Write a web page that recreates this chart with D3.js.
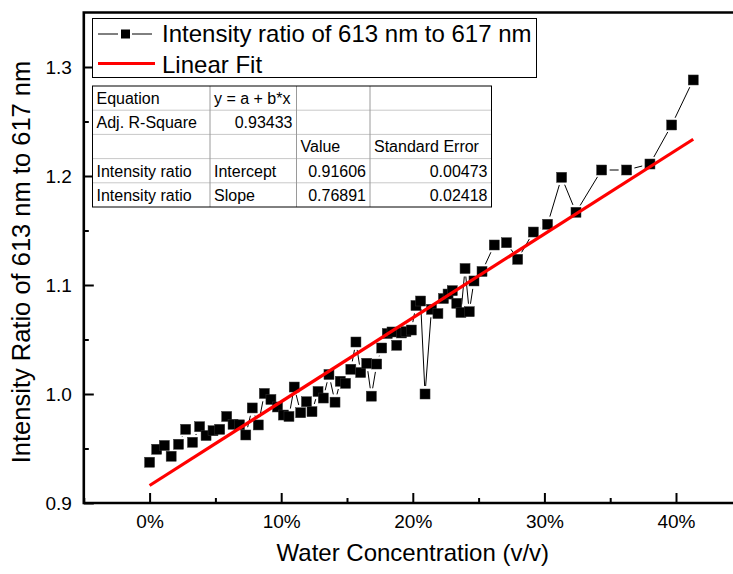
<!DOCTYPE html>
<html>
<head>
<meta charset="utf-8">
<script src="https://cdn.jsdelivr.net/npm/d3@7"></script>
<style>
  body { margin: 0; background: #fff; }
  text { font-family: "Liberation Sans", Arial, Helvetica, sans-serif; fill: #000; }
</style>
</head>
<body>
<svg id="chart" width="733" height="574"></svg>
<script>
// Water content of the solvent (% v/v)
const waterPct = [
  0.00, 0.54, 1.12, 1.64, 2.20, 2.74, 3.26, 3.80, 4.29, 4.82,
  5.33, 5.86, 6.34, 6.83, 7.31, 7.80, 8.26, 8.72, 9.22, 9.72,
  10.17, 10.59, 10.99, 11.48, 11.92, 12.34, 12.80, 13.20, 13.63, 14.09,
  14.49, 14.89, 15.29, 15.68, 16.04, 16.50, 16.85, 17.26, 17.64, 18.06,
  18.42, 18.78, 19.14, 19.48, 19.89, 20.24, 20.59, 20.93, 21.42, 21.91,
  22.33, 22.68, 23.00, 23.34, 23.66, 23.97, 24.29, 24.65, 25.26, 26.19,
  27.12, 27.97, 29.16, 30.24, 31.31, 32.40, 34.35, 36.25, 38.02, 39.67,
  41.31
];
// Emission intensity ratio I(613 nm) / I(617 nm)
const intensityRatio = [
  0.9374, 0.9493, 0.9528, 0.9429, 0.9539, 0.9676, 0.9557, 0.9700, 0.9619, 0.9663,
  0.9676, 0.9794, 0.9722, 0.9717, 0.9624, 0.9872, 0.9716, 1.0005, 0.9950, 0.9881,
  0.9807, 0.9794, 1.0064, 0.9828, 0.9929, 0.9838, 1.0023, 0.9963, 1.0179, 0.9925,
  1.0117, 1.0098, 1.0227, 1.0477, 1.0197, 1.0282, 0.9980, 1.0275, 1.0422, 1.0555,
  1.0569, 1.0447, 1.0560, 1.0572, 1.0587, 1.0812, 1.0853, 1.0000, 1.0777, 1.0738,
  1.0876, 1.0917, 1.0948, 1.0832, 1.0748, 1.1151, 1.0755, 1.1037, 1.1124, 1.1367,
  1.1388, 1.1236, 1.1486, 1.1557, 1.1988, 1.1667, 1.2055, 1.2055, 1.2110, 1.2468,
  1.2881
];

const xMajorTicks = [0, 10, 20, 30, 40];
const xMinorTicks = [-5, 5, 15, 25, 35];
const yMajorTicks = [0.9, 1.0, 1.1, 1.2, 1.3];
const yMinorTicks = [0.95, 1.05, 1.15, 1.25];

// Linear fit y = a + b*x (x as volume fraction)
const fitIntercept = 0.91606;
const fitSlope = 0.76891;

const legendLabels = ["Intensity ratio of 613 nm to 617 nm", "Linear Fit"];
const xTitle = "Water Concentration (v/v)";
const yTitle = "Intensity Ratio of 613 nm to 617 nm";

const statsRows = [
  ["Equation", "y = a + b*x", "", ""],
  ["Adj. R-Square", "0.93433", "", ""],
  ["", "", "Value", "Standard Error"],
  ["Intensity ratio", "Intercept", "0.91606", "0.00473"],
  ["Intensity ratio", "Slope", "0.76891", "0.02418"]
];

const svg = d3.select("#chart");

const x = d3.scaleLinear().domain([-5, 45]).range([83.8, 741.8]);
const y = d3.scaleLinear().domain([0.9, 1.35]).range([503, 12.5]);

const plotLeft = x(-5), plotRight = x(45), plotTop = y(1.35), plotBottom = y(0.9);

// ---- axes ----
const gx = svg.append("g").attr("transform", `translate(0,${plotBottom})`);
gx.call(d3.axisBottom(x).tickValues(xMajorTicks).tickSize(-10).tickSizeOuter(0)
  .tickPadding(12).tickFormat(d => d + "%"));
const gxm = svg.append("g").attr("transform", `translate(0,${plotBottom})`);
gxm.call(d3.axisBottom(x).tickValues(xMinorTicks).tickSize(-5).tickSizeOuter(0).tickFormat(""));

const gy = svg.append("g").attr("transform", `translate(${plotLeft},0)`);
gy.call(d3.axisLeft(y).tickValues(yMajorTicks).tickSize(-10).tickSizeOuter(0)
  .tickPadding(12).tickFormat(d3.format(".1f")));
const gym = svg.append("g").attr("transform", `translate(${plotLeft},0)`);
gym.call(d3.axisLeft(y).tickValues(yMinorTicks).tickSize(-5).tickSizeOuter(0).tickFormat(""));

[gx, gxm, gy, gym].forEach(g => {
  g.select(".domain").remove();
  g.selectAll(".tick line").attr("stroke", "#000").attr("stroke-width", 2);
  g.selectAll(".tick text").style("font-size", "19px").attr("fill", "#000");
});

// frame (bottom, left, top)
svg.append("path")
  .attr("d", `M${plotRight},${plotTop}H${plotLeft}V${plotBottom}H${plotRight}`)
  .attr("fill", "none").attr("stroke", "#000").attr("stroke-width", 2.6);

// axis titles
svg.append("text")
  .attr("x", (x(0) + x(40)) / 2).attr("y", 561)
  .attr("text-anchor", "middle").style("font-size", "24px")
  .text(xTitle);
svg.append("text")
  .attr("transform", `translate(30,262) rotate(-90)`)
  .attr("text-anchor", "middle").style("font-size", "25.5px")
  .text(yTitle);

// ---- data ----
const pts = waterPct.map((v, i) => [x(v), y(intensityRatio[i])]);
const mark = 10, gap = 8;

// connecting line, broken around each symbol
const segs = [];
for (let i = 1; i < pts.length; i++) {
  const [x0, y0] = pts[i - 1], [x1, y1] = pts[i];
  const dx = x1 - x0, dy = y1 - y0, L = Math.hypot(dx, dy);
  if (L <= 2 * gap) continue;
  const ux = dx / L, uy = dy / L;
  segs.push([x0 + ux * gap, y0 + uy * gap, x1 - ux * gap, y1 - uy * gap]);
}
svg.append("g").selectAll("line").data(segs).join("line")
  .attr("x1", d => d[0]).attr("y1", d => d[1])
  .attr("x2", d => d[2]).attr("y2", d => d[3])
  .attr("stroke", "#000").attr("stroke-width", 1);

svg.append("g").selectAll("rect").data(pts).join("rect")
  .attr("x", d => d[0] - mark / 2).attr("y", d => d[1] - mark / 2)
  .attr("width", mark).attr("height", mark)
  .attr("fill", "#000").attr("stroke", "#333").attr("stroke-width", 0.5);

// fitted line over the data range
const xMin = d3.min(waterPct), xMax = d3.max(waterPct);
svg.append("line")
  .attr("x1", x(xMin)).attr("y1", y(fitIntercept + fitSlope * xMin / 100))
  .attr("x2", x(xMax)).attr("y2", y(fitIntercept + fitSlope * xMax / 100))
  .attr("stroke", "#ff0000").attr("stroke-width", 3.2);

// ---- legend ----
const lg = svg.append("g");
lg.append("rect").attr("x", 92.5).attr("y", 18.5).attr("width", 444).attr("height", 59)
  .attr("fill", "#fff").attr("stroke", "#000").attr("stroke-width", 1);
lg.append("line").attr("x1", 98).attr("x2", 118).attr("y1", 34).attr("y2", 34)
  .attr("stroke", "#000").attr("stroke-width", 1);
lg.append("line").attr("x1", 132).attr("x2", 152).attr("y1", 34).attr("y2", 34)
  .attr("stroke", "#000").attr("stroke-width", 1);
lg.append("rect").attr("x", 121).attr("y", 29.5).attr("width", 9).attr("height", 9).attr("fill", "#000");
lg.append("line").attr("x1", 98).attr("x2", 155).attr("y1", 63.5).attr("y2", 63.5)
  .attr("stroke", "#ff0000").attr("stroke-width", 3);
lg.selectAll("text.lab").data(legendLabels).join("text").attr("class", "lab")
  .attr("x", 162).attr("y", (d, i) => 42 + i * 31)
  .style("font-size", "24px").text(d => d);

// ---- statistics table ----
const colEdges = [92.5, 210, 296.5, 370, 491.5];
const rowTop = 86, rowH = 24.2;
const tb = svg.append("g");
tb.append("rect").attr("x", colEdges[0]).attr("y", rowTop)
  .attr("width", colEdges[4] - colEdges[0]).attr("height", rowH * statsRows.length)
  .attr("fill", "#fff");
for (let r = 1; r < statsRows.length; r++) {
  tb.append("line").attr("x1", colEdges[0]).attr("x2", colEdges[4])
    .attr("y1", rowTop + r * rowH).attr("y2", rowTop + r * rowH)
    .attr("stroke", "#c8c8c8").attr("stroke-width", 1);
}
for (let c = 1; c < 4; c++) {
  tb.append("line").attr("x1", colEdges[c]).attr("x2", colEdges[c])
    .attr("y1", rowTop).attr("y2", rowTop + rowH * statsRows.length)
    .attr("stroke", "#9a9a9a").attr("stroke-width", 1);
}
tb.append("rect").attr("x", colEdges[0]).attr("y", rowTop)
  .attr("width", colEdges[4] - colEdges[0]).attr("height", rowH * statsRows.length)
  .attr("fill", "none").attr("stroke", "#000").attr("stroke-width", 1);
statsRows.forEach((row, r) => {
  row.forEach((cell, c) => {
    if (!cell) return;
    const numeric = /^[0-9.]+$/.test(cell);
    tb.append("text")
      .attr("x", numeric ? colEdges[c + 1] - 4 : colEdges[c] + 4)
      .attr("y", rowTop + r * rowH + 18)
      .attr("text-anchor", numeric ? "end" : "start")
      .style("font-size", "16px")
      .text(cell);
  });
});
</script>
</body>
</html>
